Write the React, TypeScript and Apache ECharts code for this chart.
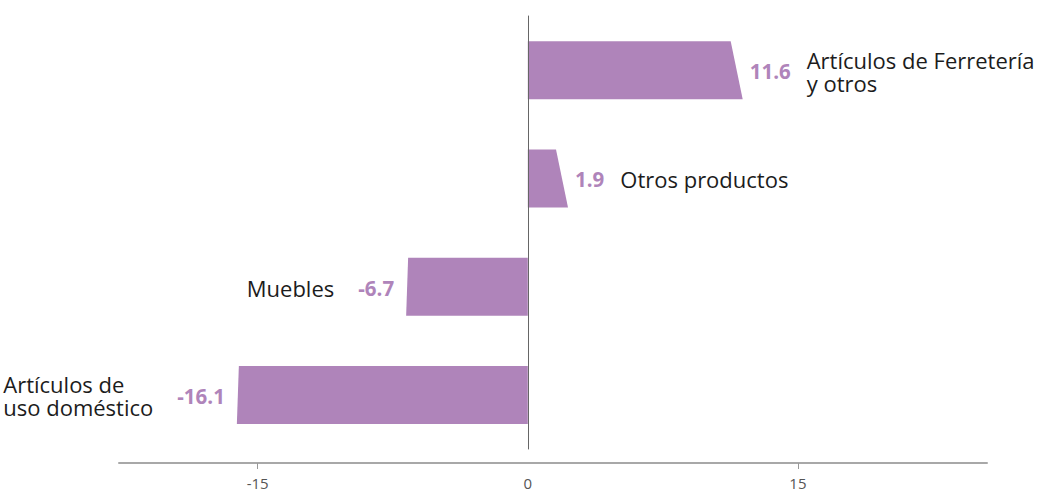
import React, { useEffect, useRef } from "react";
import * as echarts from "echarts";

const categories = [
  "Artículos de Ferretería\ny otros",
  "Otros productos",
  "Muebles",
  "Artículos de\nuso doméstico",
];
const values = [11.6, 1.9, -6.7, -16.1];
const valueLabels = ["11.6", "1.9", "-6.7", "-16.1"];
const axisLabelValues = [-15, 0, 15];
const axisTickValues = [-15, 15];
const xMin = -22.7;
const xMax = 25.5;

const PURPLE = "#af84ba";
const TEXT = "#1c1c1c";
const FONT = "'Open Sans', 'Noto Sans', sans-serif";
const NAME_SIZE = 22;
const VALUE_SIZE = 20.5;

function measure(text: string, font: string): number {
  const ctx = document.createElement("canvas").getContext("2d");
  if (!ctx) return text.length * 10;
  ctx.font = font;
  return Math.max(...text.split("\n").map((l) => ctx.measureText(l).width));
}

export default function App() {
  const ref = useRef<HTMLDivElement>(null);
  useEffect(() => {
    document.body.style.margin = "0";
    if (!ref.current) return;
    const chart = echarts.init(ref.current, undefined, { renderer: "svg" });
    const nameFont = `${NAME_SIZE}px ${FONT}`;
    const valueFont = `bold ${VALUE_SIZE}px ${FONT}`;
    chart.setOption({
      animation: false,
      grid: [
        { left: 119, right: 64, top: 16, height: 433 },
        { left: 119, right: 64, top: 462, height: 1 },
      ],
      xAxis: [
        { gridIndex: 0, type: "value", min: xMin, max: xMax, show: false },
        {
          gridIndex: 1,
          type: "value",
          min: xMin,
          max: xMax,
          axisLine: { show: true, lineStyle: { color: "#a8a8a8", width: 2 } },
          axisTick: {
            show: true,
            customValues: axisTickValues,
            length: 6,
            lineStyle: { color: "#999" },
          },
          axisLabel: {
            customValues: axisLabelValues,
            color: "#555",
            fontSize: 15,
            fontFamily: "'Liberation Sans Narrow', 'Open Sans', sans-serif",
            margin: 12,
          },
          splitLine: { show: false },
        },
      ],
      yAxis: [
        {
          gridIndex: 0,
          type: "category",
          data: categories,
          inverse: true,
          z: 5,
          axisLine: { show: true, onZero: true, lineStyle: { color: "#666", width: 1 } },
          axisTick: { show: false },
          axisLabel: { show: false },
          splitLine: { show: false },
        },
        { gridIndex: 1, type: "value", show: false },
      ],
      series: [
        {
          type: "custom",
          xAxisIndex: 0,
          yAxisIndex: 0,
          encode: { x: 0, y: 1 },
          data: values.map((v, i) => [v, i]),
          renderItem: (params: any, api: any) => {
            const v = api.value(0);
            const ci = api.value(1);
            const base = api.coord([0, ci]);
            const end = api.coord([v, ci]);
            const cy = base[1];
            const half = 29;
            const pos = v >= 0;
            const s = pos ? 6 : -1;
            const topEnd = end[0] - s;
            const botEnd = end[0] + s;
            const vText = valueLabels[ci];
            const nText = categories[ci];
            const vw = measure(vText, valueFont);
            const nw = measure(nText, nameFont);
            let valueX: number, valueAlign: string, nameX: number;
            if (pos) {
              valueX = botEnd + 7;
              valueAlign = "left";
              nameX = valueX + vw + 16;
            } else {
              valueX = botEnd - 12;
              valueAlign = "right";
              nameX = valueX - vw - 24 - nw;
            }
            return {
              type: "group",
              children: [
                {
                  type: "polygon",
                  shape: {
                    points: [
                      [base[0], cy - half],
                      [topEnd, cy - half],
                      [botEnd, cy + half],
                      [base[0], cy + half],
                    ],
                  },
                  style: { fill: PURPLE },
                },
                {
                  type: "text",
                  x: valueX,
                  y: cy + 1,
                  style: {
                    text: vText,
                    fill: PURPLE,
                    fontSize: VALUE_SIZE,
                    fontWeight: "bold",
                    fontFamily: FONT,
                    align: valueAlign,
                    verticalAlign: "middle",
                  },
                },
                {
                  type: "text",
                  x: nameX,
                  y: cy + 1,
                  style: {
                    text: nText,
                    fill: TEXT,
                    fontSize: NAME_SIZE,
                    fontFamily: FONT,
                    align: "left",
                    verticalAlign: "middle",
                    lineHeight: 23,
                  },
                },
              ],
            };
          },
        },
      ],
    });
    return () => chart.dispose();
  }, []);
  return <div ref={ref} style={{ width: 1051, height: 498 }} />;
}
